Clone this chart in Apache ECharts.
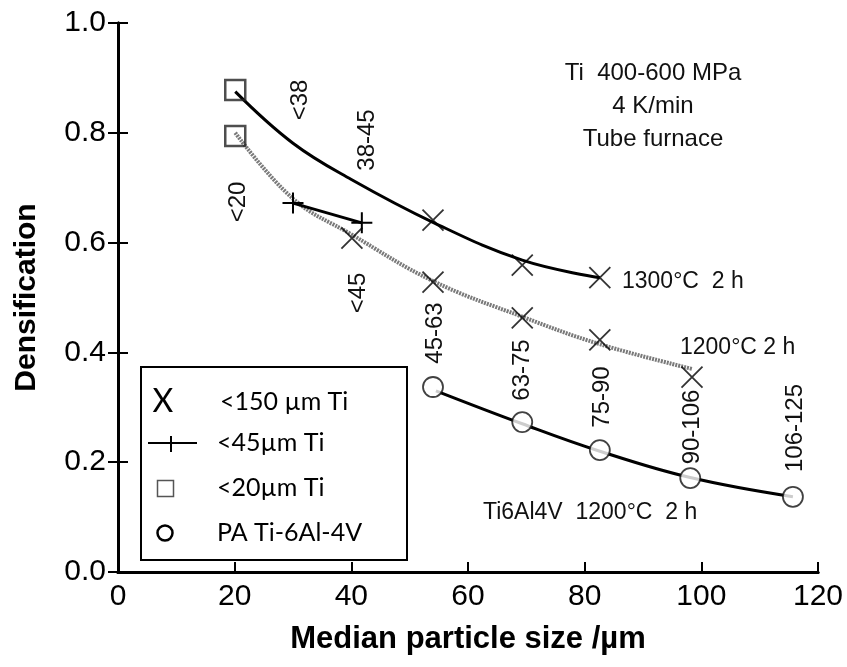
<!DOCTYPE html>
<html><head><meta charset="utf-8">
<script src="https://cdn.jsdelivr.net/npm/echarts@6/dist/echarts.min.js"></script>
<style>html,body{margin:0;background:#fff}#c{width:847px;height:667px}</style>
</head><body><div id="c"></div><script>
// ---- data ----
const xTicks = [0, 20, 40, 60, 80, 100, 120];
const yTicks = [0, 0.2, 0.4, 0.6, 0.8, 1.0];
// measured points
const ti150_1300 = [[54.0, 0.641], [69.3, 0.559], [82.6, 0.536]];
const ti150_1200 = [[40.1, 0.608], [54.0, 0.528], [69.3, 0.463], [82.6, 0.423], [98.4, 0.355]];
const ti45 = [[30.0, 0.672], [41.8, 0.636]];
const ti20 = [[20.1, 0.878], [20.1, 0.794]];
const ti64 = [[54.0, 0.337], [69.3, 0.273], [82.6, 0.222], [98.1, 0.171], [115.7, 0.137]];
// hand-drawn trend curves
const fit1300 = [[20.1, 0.875], [30, 0.781], [40, 0.715], [54, 0.637], [69.3, 0.568], [82.6, 0.536]];
const fit1200 = [[20.1, 0.80], [30, 0.68], [40, 0.615], [54, 0.53], [69.3, 0.465], [82.6, 0.415], [98.4, 0.37]];
const fit64 = [[54.5, 0.33], [69.3, 0.27], [82.6, 0.22], [98.1, 0.172], [115.7, 0.137]];
// text labels
const sizeLabels = ['<38', '38-45', '<20', '<45', '45-63', '63-75', '75-90', '90-106', '106-125'];
const legendLabels = ['<150 µm Ti', '<45µm Ti', '<20µm Ti', 'PA Ti-6Al-4V'];

const chart = echarts.init(document.getElementById('c'), null, {renderer: 'canvas'});
const F = 'Liberation Sans, Arial, sans-serif';
const LF = 'Lato, Calibri, sans-serif';
const xPath = 'path://M0,0L20,20M20,0L0,20';
const plusPath = 'path://M0,10L20,10M10,0L10,20';

const labelPos = [[300,100],[367,140],[238,202],[358,293],[435,333],[522,370],[602,397],[692,427],[795,428]];
const graphics = [];
sizeLabels.forEach((t, i) => {
  graphics.push({type:'text', x: labelPos[i][0], y: labelPos[i][1], rotation: Math.PI/2,
    style:{text:t, font:'24px ' + F, fill:'#111', align:'center', verticalAlign:'middle'}});
});
[['Ti  400-600 MPa',73],['4 K/min',106],['Tube furnace',139]].forEach(a => {
  graphics.push({type:'text', x:653, y:a[1], style:{text:a[0], font:'24px '+F, fill:'#111', align:'center', verticalAlign:'middle'}});
});
graphics.push({type:'text', x:622, y:282, style:{text:'1300°C  2 h', font:'23px '+F, fill:'#111', verticalAlign:'middle'}});
graphics.push({type:'text', x:680, y:348, style:{text:'1200°C 2 h', font:'23px '+F, fill:'#111', verticalAlign:'middle'}});
graphics.push({type:'text', x:483, y:513, style:{text:'Ti6Al4V  1200°C  2 h', font:'23px '+F, fill:'#111', verticalAlign:'middle'}});
// legend box
graphics.push({type:'rect', shape:{x:141, y:367, width:266, height:193}, style:{fill:'#fff', stroke:'#000', lineWidth:2}, z:10});
graphics.push({type:'text', x:163, y:402, z:11, style:{text:'X', font:'32px '+LF, fill:'#000', align:'center', verticalAlign:'middle'}});
graphics.push({type:'line', z:11, shape:{x1:148,y1:443,x2:197,y2:443}, style:{stroke:'#000', lineWidth:2}});
graphics.push({type:'line', z:11, shape:{x1:171,y1:436,x2:171,y2:452}, style:{stroke:'#000', lineWidth:2}});
graphics.push({type:'rect', z:11, shape:{x:157.5, y:480.5, width:16, height:16}, style:{fill:'none', stroke:'#555', lineWidth:1.5}});
graphics.push({type:'circle', z:11, shape:{cx:165, cy:533, r:7.5}, style:{fill:'none', stroke:'#000', lineWidth:2.5}});
[[220,402],[217,443],[217,488],[217,533]].forEach((p, i) => {
  graphics.push({type:'text', x:p[0], y:p[1], z:11, style:{text:legendLabels[i], font:'25px '+LF, fill:'#000', verticalAlign:'middle'}});
});

const axisLine = {show:true, lineStyle:{color:'#000', width:3}};
chart.setOption({
  animation:false,
  backgroundColor:'#fff',
  grid:{left:118, right:29, top:23, bottom:95},
  xAxis:[{
    type:'value', min:xTicks[0], max:xTicks[xTicks.length-1], interval:20,
    axisLine, splitLine:{show:false},
    axisTick:{inside:true, length:10, lineStyle:{color:'#000', width:2}},
    axisLabel:{fontFamily:F, fontSize:30, color:'#000', margin:10},
    name:'Median particle size /µm', nameLocation:'middle', nameGap:52,
    nameTextStyle:{fontFamily:F, fontSize:31, fontWeight:'bold', color:'#000'}
  },{
    type:'value', position:'top', min:0, max:120, interval:20,
    axisLine, axisTick:{show:false}, axisLabel:{show:false}, splitLine:{show:false}
  }],
  yAxis:[{
    type:'value', min:yTicks[0], max:yTicks[yTicks.length-1], interval:0.2,
    axisLine, splitLine:{show:false},
    axisTick:{inside:true, length:10, lineStyle:{color:'#000', width:2}},
    axisLabel:{fontFamily:F, fontSize:30, color:'#000', margin:12, formatter:v => v.toFixed(1)},
    name:'Densification', nameLocation:'middle', nameGap:76,
    nameTextStyle:{fontFamily:F, fontSize:30, fontWeight:'bold', color:'#000'}
  },{
    type:'value', position:'right', min:0, max:1, interval:0.2,
    axisLine, axisTick:{inside:true, length:10, lineStyle:{color:'#000', width:2}},
    axisLabel:{show:false}, splitLine:{show:false}
  }],
  series:[
    {type:'line', data:fit1300, smooth:0.4, showSymbol:false, lineStyle:{color:'#000', width:3}, z:2},
    {type:'line', data:fit1200, smooth:0.4, showSymbol:false, lineStyle:{color:'#7a7a7a', width:4, type:[2,1]}, z:2},
    {type:'line', data:fit64, smooth:0.4, showSymbol:false, lineStyle:{color:'#000', width:3}, z:2},
    {type:'line', data:ti45, showSymbol:true, symbol:plusPath, symbolSize:21,
      itemStyle:{color:'#000', borderColor:'#000', borderWidth:2}, lineStyle:{color:'#000', width:3}, z:3},
    {type:'scatter', data:ti150_1300.concat(ti150_1200), symbol:xPath, symbolSize:21,
      itemStyle:{color:'rgba(0,0,0,0)', borderColor:'#000', borderWidth:1.8}, z:4},
    {type:'scatter', data:ti20, symbol:'rect', symbolSize:20,
      itemStyle:{color:'rgba(0,0,0,0)', borderColor:'#222', borderWidth:2.5}, z:4},
    {type:'scatter', data:ti64, symbol:'circle', symbolSize:20,
      itemStyle:{color:'#fff', borderColor:'#111', borderWidth:1.8}, z:4}
  ],
  graphic: graphics
});
</script></body></html>
